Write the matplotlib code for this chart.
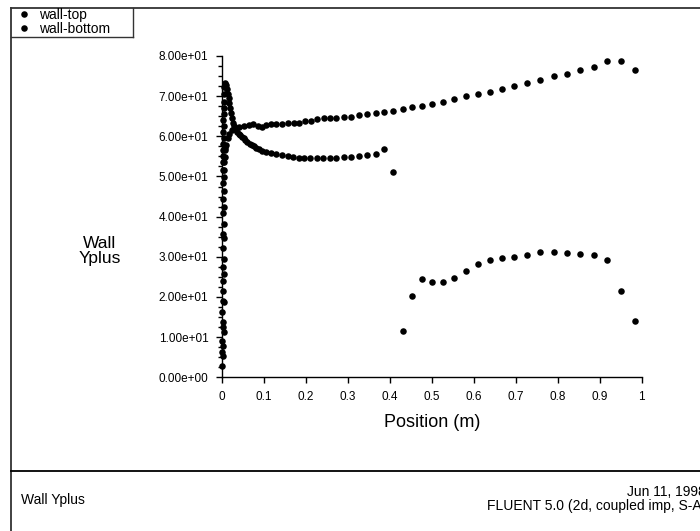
import matplotlib
matplotlib.use("Agg")
import matplotlib.pyplot as plt
from matplotlib.lines import Line2D
from matplotlib.ticker import MultipleLocator, FormatStrFormatter

plt.rcParams["font.family"] = ["Liberation Sans", "DejaVu Sans"]

# wall-top: 位置 (m) 与 Yplus
top_x = [0.002, 0.002, 0.003, 0.002, 0.003, 0.002, 0.003, 0.003, 0.004, 0.003, 0.004, 0.004, 0.005, 0.005,
         0.005, 0.006, 0.006,
         0.007, 0.009, 0.013, 0.017, 0.023, 0.031, 0.041, 0.051, 0.063, 0.073, 0.085, 0.095, 0.105, 0.116,
         0.129, 0.142, 0.157, 0.170, 0.184, 0.198, 0.212, 0.226, 0.242, 0.257, 0.272, 0.290, 0.308, 0.326,
         0.346, 0.366, 0.386, 0.408, 0.430, 0.452, 0.477, 0.501, 0.526, 0.553, 0.580, 0.609, 0.638, 0.667,
         0.696, 0.727, 0.758, 0.790, 0.821, 0.852, 0.886, 0.917, 0.950, 0.985]
top_y = [5.2, 7.8, 11.2, 13.7, 18.7, 21.4, 25.6, 29.4, 34.8, 38.1, 42.5, 46.3, 49.8, 51.5,
         53.5, 54.8, 56.5,
         57.0, 57.8, 59.5, 60.7, 61.5, 62.0, 62.2, 62.5, 62.8, 63.0, 62.5, 62.2, 62.8, 63.0,
         63.1, 63.1, 63.2, 63.2, 63.4, 63.7, 63.9, 64.3, 64.5, 64.5, 64.6, 64.8, 64.9, 65.3,
         65.5, 65.8, 66.1, 66.4, 66.7, 67.2, 67.6, 68.1, 68.6, 69.2, 70.0, 70.5, 71.1, 71.8,
         72.5, 73.2, 74.0, 74.9, 75.6, 76.4, 77.2, 78.8, 78.8, 76.4]

# wall-bottom
bot_x = [0.000, 0.000, 0.000, 0.001, 0.000, 0.001, 0.001, 0.001, 0.001, 0.001, 0.002, 0.001, 0.002, 0.002,
         0.002, 0.002, 0.002, 0.002, 0.003, 0.002, 0.003, 0.002, 0.003, 0.003, 0.004, 0.004, 0.005,
         0.006, 0.007, 0.009, 0.011, 0.013, 0.015, 0.017, 0.019, 0.021, 0.023, 0.025, 0.028, 0.031, 0.035,
         0.039, 0.043, 0.047, 0.051, 0.055, 0.060, 0.065, 0.070, 0.075, 0.081, 0.087, 0.095,
         0.105, 0.117, 0.129, 0.142, 0.156, 0.168, 0.182, 0.195, 0.210, 0.226, 0.241, 0.256, 0.272, 0.289,
         0.306, 0.325, 0.345, 0.366, 0.385, 0.406,
         0.430, 0.452, 0.477, 0.501, 0.526, 0.553, 0.580, 0.609, 0.638, 0.667, 0.696, 0.727, 0.758, 0.790,
         0.821, 0.852, 0.886, 0.917, 0.950, 0.985]
bot_y = [2.8, 6.4, 9.0, 12.4, 16.2, 18.9, 23.9, 27.4, 32.3, 35.6, 41.0, 44.3, 48.5, 51.7,
         53.5, 55.0, 56.5, 58.0, 59.5, 61.0, 62.5, 64.0, 65.5, 67.0, 68.5, 70.6, 72.2,
         73.3, 73.0, 72.7, 71.8, 70.6, 69.5, 68.2, 67.0, 65.7, 64.5, 63.2, 62.5, 61.7, 61.2,
         60.7, 60.3, 59.9, 59.5, 59.2, 58.7, 58.2, 57.9, 57.6, 57.2, 56.9, 56.3,
         56.0, 55.8, 55.5, 55.4, 55.1, 54.8, 54.7, 54.7, 54.7, 54.7, 54.7, 54.7, 54.7, 54.9,
         54.9, 55.1, 55.3, 55.6, 56.9, 51.0,
         11.5, 20.2, 24.6, 23.7, 23.7, 24.8, 26.5, 28.2, 29.1, 29.6, 29.9, 30.5, 31.1, 31.1,
         31.0, 30.7, 30.5, 29.1, 21.4, 14.1]

W, H = 700, 531
fig = plt.figure(figsize=(7, 5.31), dpi=100)
ax = fig.add_axes([222.3 / W, 1 - 377.3 / H, 419.4 / W, 321.3 / H])

ms = 4.7
ax.plot(top_x, top_y, "o", color="black", ms=ms, mew=0, clip_on=False, label="wall-top")
ax.plot(bot_x, bot_y, "o", color="black", ms=ms, mew=0, clip_on=False, label="wall-bottom")

ax.set_xlim(0, 1)
ax.set_ylim(0, 80)
ax.xaxis.set_major_locator(MultipleLocator(0.1))
ax.xaxis.set_major_formatter(FormatStrFormatter("%g"))
ax.yaxis.set_major_locator(MultipleLocator(10))
ax.yaxis.set_minor_locator(MultipleLocator(2.5))
ax.yaxis.set_major_formatter(FormatStrFormatter("%.2e"))
for s in ["top", "right"]:
    ax.spines[s].set_visible(False)
for s in ["left", "bottom"]:
    ax.spines[s].set_linewidth(1.0)
ax.tick_params(which="both", length=4, width=1.0, labelsize=8.5, pad=6)
ax.tick_params(axis="y", which="minor", length=3)
ax.set_xlabel("Position (m)", fontsize=13, labelpad=8)

fig.text(100 / W, 1 - 251 / H, "Wall\nYplus", ha="center", va="center",
         fontsize=12.5, linespacing=0.95)

# 边框
lc = "#333333"
fig.add_artist(Line2D([11 / W, 1], [1 - 8 / H, 1 - 8 / H], color=lc, lw=1.3))
fig.add_artist(Line2D([11 / W, 11 / W], [0, 1 - 8 / H], color=lc, lw=1.3))
fig.add_artist(Line2D([11 / W, 1], [1 - 471 / H, 1 - 471 / H], color="black", lw=1.3))
fig.add_artist(Line2D([11 / W, 133 / W], [1 - 37 / H, 1 - 37 / H], color=lc, lw=1.0))
fig.add_artist(Line2D([133 / W, 133 / W], [1 - 37 / H, 1 - 8 / H], color=lc, lw=1.0))

fig.legend(loc="upper left", bbox_to_anchor=(17 / W, 1 - 8 / H), frameon=False,
           fontsize=10, borderpad=0, borderaxespad=0, handlelength=1.0,
           handletextpad=0.55, labelspacing=0.0, markerscale=1.0)

fig.text(21 / W, 1 - 500 / H, "Wall Yplus", ha="left", va="center", fontsize=10)
fig.text(706 / W, 1 - 492 / H, "Jun 11, 1998", ha="right", va="center", fontsize=10)
fig.text(706 / W, 1 - 506 / H, "FLUENT 5.0 (2d, coupled imp, S-A)", ha="right", va="center", fontsize=10)

fig.savefig("out.png", dpi=100)
